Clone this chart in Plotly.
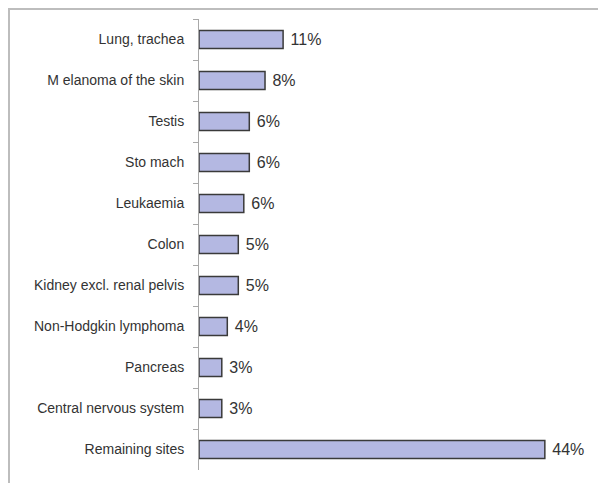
import plotly.graph_objects as go

# cancer sites, top to bottom as shown
SITES = [
    "Lung, trachea",
    "M elanoma of the skin",
    "Testis",
    "Sto mach",
    "Leukaemia",
    "Colon",
    "Kidney excl. renal pelvis",
    "Non-Hodgkin lymphoma",
    "Pancreas",
    "Central nervous system",
    "Remaining sites",
]
SHARE = [10.7, 8.4, 6.4, 6.4, 5.7, 5.0, 5.0, 3.6, 2.9, 2.9, 44.0]
LABELS = ["11%", "8%", "6%", "6%", "6%", "5%", "5%", "4%", "3%", "3%", "44%"]

BAR_FILL = "#b4b8e2"
BAR_EDGE = "#3a3a3a"
TEXT = "#333333"
FRAME = "#bdbdbd"

# page body adds ~8px offset, so the figure is a bit smaller than the window
W, H = 598, 475
L, R, T, B = 191, 14, 11, 13
pw, ph = W - L - R, H - T - B

fig = go.Figure(go.Bar(
    x=SHARE,
    y=SITES,
    orientation="h",
    marker=dict(color=BAR_FILL, line=dict(color=BAR_EDGE, width=1.5)),
    text=[" " + s for s in LABELS],
    textposition="outside",
    textfont=dict(size=16, color=TEXT),
    cliponaxis=False,
    width=0.44,
))

# outer frame around the chart
fig.add_shape(
    type="rect", xref="paper", yref="paper",
    x0=(1 - L) / pw, x1=(W - 1 - L) / pw,
    y0=-0.2, y1=(H - B - 1) / ph,
    line=dict(color=FRAME, width=2),
)

fig.update_layout(
    width=W, height=H,
    margin=dict(l=L, r=R, t=T, b=B),
    paper_bgcolor="white",
    plot_bgcolor="white",
    font=dict(family="Liberation Sans, Arial, sans-serif", color=TEXT, size=14),
    showlegend=False,
    xaxis=dict(range=[0, 50], visible=False),
    yaxis=dict(
        autorange="reversed",
        showline=True, linecolor="#a8a8a8", linewidth=1,
        ticks="outside", ticklen=5, tickcolor="#a8a8a8",
        tickson="boundaries", ticklabelstandoff=11,
        showgrid=False,
        tickfont=dict(size=14, color=TEXT),
    ),
)

fig.write_html("out.html")
